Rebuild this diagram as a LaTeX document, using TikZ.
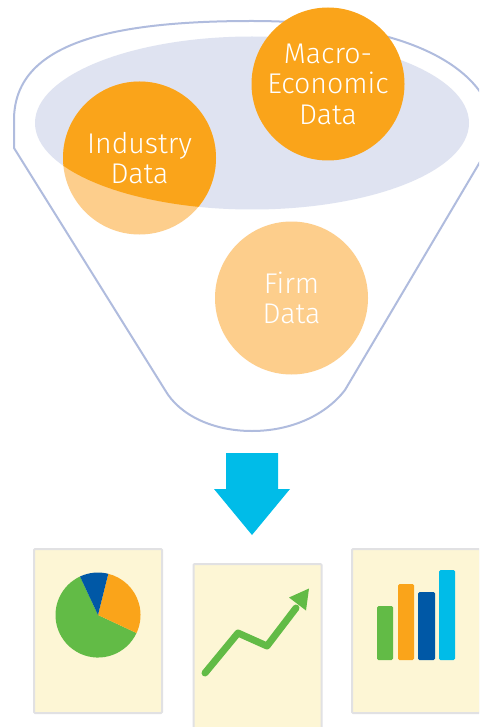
\documentclass[tikz,border=0pt]{standalone}
\usepackage{fontspec}
\setmainfont{Fira Sans Light}
\usetikzlibrary{positioning, calc}
\definecolor{funnelline}{HTML}{B0BCDE}
\definecolor{funnelfill}{HTML}{DFE3F1}
\definecolor{dataorange}{HTML}{FAA41A}
\definecolor{datapale}{HTML}{FDCE8C}
\definecolor{arrowblue}{HTML}{00BCE8}
\definecolor{cardfill}{HTML}{FDF6D5}
\definecolor{cardline}{HTML}{E1E1E3}
\definecolor{chartgreen}{HTML}{62BB46}
\definecolor{chartblue}{HTML}{0058A6}
\tikzstyle{datacircle} = [circle, text centered, align=center, minimum size=153pt, inner sep=0pt, text=white, font=\fontsize{28.5}{30.5}\selectfont]
\tikzstyle{card} = [rectangle, draw=cardline, line width=2pt, fill=cardfill, rounded corners=1pt, minimum width=128pt, minimum height=164pt, inner sep=0pt]
\tikzstyle{bar} = [fill, rounded corners=1.5pt]

\begin{document}
\begin{tikzpicture}[x=1pt, y=-1pt]
	\useasboundingbox (0,0) rectangle (479,727);
	\clip (0,0) rectangle (479,727);

	% Funnel
	\draw[funnelline, line width=2pt, fill=white] (14,148) -- (14,120) .. controls (14,45) and (105,21) .. (252,21) .. controls (390,21) and (470,58) .. (490,110) -- (490,145) -- (345,390) .. controls (325,416) and (290,431) .. (252,431) .. controls (214,431) and (180,416) .. (165,390) -- cycle;
	\fill[funnelfill] (252,123) ellipse [x radius=217, y radius=86.5];

	% Data circles
	\begin{scope}
		\node (industry_pale) [datacircle, fill=datapale] at (139.5,158) {};
		\clip (252,123) ellipse [x radius=217, y radius=86.5];
		\fill[dataorange] (139.5,158) circle [radius=76.5];
	\end{scope}
	\node (industry) [datacircle] at (139.5,158) {Industry\\Data};
	\node (macro) [datacircle, fill=dataorange] at (328,84) {Macro-\\Economic\\Data};
	\node (firm) [datacircle, fill=datapale] at (291.5,298) {Firm\\Data};

	% Big arrow
	\fill[arrowblue] (226,453) -- (278,453) -- (278,489) -- (290,489) -- (252,535) -- (214,489) -- (226,489) -- cycle;

	% Cards
	\node (card_pie) [card] at (98,631) {};
	\node (card_line) [card, minimum height=180pt] at (257.5,654) {};
	\node (card_bars) [card] at (416,631) {};

	% Pie chart
	\coordinate (pie) at (98,615);
	\fill[chartgreen] (pie) -- (136.5,633) arc [start angle=25, end angle=245, radius=42.5] -- cycle;
	\fill[dataorange] (pie) -- (108.3,573.8) arc [start angle=-76, end angle=25, radius=42.5] -- cycle;
	\fill[chartblue] (pie) -- (80,576.5) arc [start angle=-115, end angle=-76, radius=42.5] -- cycle;

	% Trend arrow
	\draw[chartgreen, line width=7pt, line cap=round, line join=round] (205,673) -- (238,633) -- (267,646) -- (296,608);
	\fill[chartgreen] (309,588.5) -- (306,610.5) -- (289,597.5) -- cycle;

	% Bars
	\fill[bar, chartgreen] (377,606) rectangle (393,660);
	\fill[bar, dataorange] (398,584) rectangle (414,660);
	\fill[bar, chartblue] (418,592) rectangle (435,660);
	\fill[bar, arrowblue] (439,570) rectangle (455,660);

\end{tikzpicture}
\end{document}
